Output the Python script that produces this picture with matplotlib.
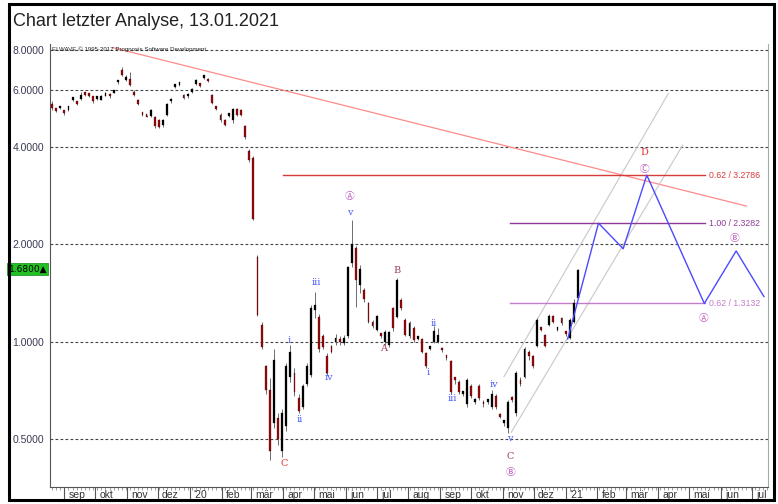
import numpy as np
import pandas as pd
import matplotlib
matplotlib.use("Agg")
import matplotlib.pyplot as plt
import matplotlib.dates as mdates
import matplotlib.transforms as mtransforms
from matplotlib.patches import Rectangle

# candles, roughly every 4 days up to the analysis date
opens = [5.45, 5.2, 5.28, 5.12, 5.2, 5.6, 5.5, 5.65, 5.85, 5.8,
         5.75, 5.65, 5.62, 5.78, 5.85, 5.9, 6.35, 6.95, 6.45, 6.5,
         5.95, 5.6, 5.1, 5.02, 5.0, 4.95, 4.85, 4.68, 5.05, 5.55,
         6.15, 6.25, 5.8, 5.75, 5.95, 6.3, 6.25, 6.55, 6.5, 5.8,
         5.3, 5.05, 4.85, 5.0, 4.85, 5.25, 5.2, 4.65, 3.9, 3.7,
         1.83, 1.13, 0.84, 0.71, 0.56, 0.58, 0.46, 0.55, 0.78, 0.8,
         0.67, 0.63, 0.74, 0.79, 1.25, 1.19, 1.04, 0.9, 0.97, 1.0,
         1.01, 0.99, 1.04, 1.75, 1.95, 1.5, 1.45, 1.32, 1.15, 1.09,
         1.05, 1.0, 0.98, 1.27, 1.19, 1.35, 1.17, 1.04, 1.1, 1.02,
         1.02, 0.92, 0.95, 1.0, 1.0, 0.95, 0.9, 0.87, 0.77, 0.75,
         0.69, 0.64, 0.73, 0.65, 0.73, 0.65, 0.65, 0.63, 0.68, 0.59,
         0.56, 0.54, 0.67, 0.6, 0.76, 0.78, 0.93, 0.9, 0.97, 1.1,
         1.05, 1.13, 1.2, 1.09, 1.18, 1.07, 1.03, 1.15, 1.37]
highs = [5.55, 5.25, 5.38, 5.15, 5.38, 5.7, 5.55, 5.95, 5.9, 5.85,
         5.78, 5.72, 5.8, 5.92, 5.9, 6.0, 6.48, 7.1, 6.7, 6.85,
         6.0, 5.65, 5.15, 5.05, 5.25, 5.0, 4.9, 4.9, 5.5, 5.7,
         6.3, 6.35, 5.85, 5.9, 6.1, 6.5, 6.3, 6.7, 6.55, 5.85,
         5.35, 5.1, 4.9, 5.1, 5.3, 5.3, 5.25, 4.7, 3.95, 3.75,
         1.85, 1.15, 0.85, 0.77, 0.95, 0.6, 0.62, 0.86, 0.98, 0.83,
         0.69, 0.74, 0.86, 1.3, 1.43, 1.22, 1.06, 0.92, 0.98, 1.06,
         1.04, 1.05, 1.72, 2.38, 1.98, 1.73, 1.47, 1.33, 1.17, 1.21,
         1.06, 1.09, 1.08, 1.28, 1.58, 1.37, 1.18, 1.16, 1.12, 1.03,
         1.03, 0.93, 0.97, 1.12, 1.1, 0.96, 0.91, 0.88, 0.78, 0.76,
         0.7, 0.77, 0.74, 0.67, 0.74, 0.66, 0.66, 0.71, 0.69, 0.6,
         0.57, 0.66, 0.68, 0.81, 0.78, 0.96, 0.94, 0.91, 1.18, 1.11,
         1.06, 1.22, 1.21, 1.1, 1.19, 1.08, 1.18, 1.36, 1.68]
lows = [5.2, 5.15, 5.25, 5.05, 5.18, 5.55, 5.4, 5.6, 5.75, 5.72,
        5.5, 5.6, 5.6, 5.75, 5.7, 5.88, 6.3, 6.65, 6.4, 6.2,
        5.75, 5.4, 5.0, 4.95, 4.98, 4.6, 4.58, 4.62, 5.0, 5.5,
        6.1, 6.2, 5.65, 5.7, 5.9, 6.25, 6.15, 6.5, 6.35, 5.45,
        5.2, 4.8, 4.65, 4.95, 4.75, 5.0, 5.0, 4.25, 3.6, 2.38,
        1.2, 0.95, 0.69, 0.43, 0.54, 0.48, 0.44, 0.53, 0.75, 0.68,
        0.6, 0.62, 0.73, 0.78, 1.18, 0.93, 0.95, 0.79, 0.92, 0.98,
        0.98, 0.98, 1.03, 1.7, 1.28, 1.42, 1.33, 1.14, 1.1, 1.08,
        1.03, 0.98, 0.96, 1.08, 1.18, 1.25, 1.04, 1.03, 1.0, 1.01,
        0.92, 0.83, 0.94, 0.99, 0.99, 0.93, 0.88, 0.69, 0.74, 0.69,
        0.68, 0.63, 0.67, 0.64, 0.66, 0.63, 0.64, 0.62, 0.62, 0.58,
        0.55, 0.52, 0.65, 0.59, 0.73, 0.77, 0.88, 0.83, 0.96, 1.08,
        0.96, 1.12, 1.14, 1.08, 1.13, 1.04, 1.02, 1.14, 1.36]
closes = [5.3, 5.18, 5.32, 5.1, 5.35, 5.65, 5.45, 5.8, 5.82, 5.78,
          5.55, 5.68, 5.75, 5.9, 5.75, 5.95, 6.4, 6.7, 6.6, 6.25,
          5.8, 5.45, 5.05, 4.98, 5.2, 4.65, 4.62, 4.85, 5.45, 5.65,
          6.25, 6.3, 5.7, 5.85, 6.05, 6.45, 6.2, 6.65, 6.4, 5.5,
          5.25, 4.85, 4.7, 5.05, 5.25, 5.05, 5.05, 4.3, 3.65, 2.4,
          1.21, 0.96, 0.71, 0.46, 0.88, 0.5, 0.6, 0.84, 0.93, 0.7,
          0.61, 0.73, 0.84, 1.27, 1.3, 0.95, 0.96, 0.8, 0.93, 1.03,
          1.0, 1.03, 1.7, 2.0, 1.55, 1.68, 1.36, 1.15, 1.12, 1.2,
          1.04, 1.07, 1.07, 1.1, 1.55, 1.27, 1.05, 1.14, 1.01, 1.02,
          0.93, 0.84, 0.96, 1.08, 1.05, 0.94, 0.89, 0.7, 0.76, 0.7,
          0.69, 0.76, 0.68, 0.66, 0.67, 0.64, 0.65, 0.69, 0.63, 0.585,
          0.565, 0.65, 0.66, 0.8, 0.74, 0.95, 0.9, 0.84, 1.17, 1.09,
          0.97, 1.2, 1.15, 1.09, 1.14, 1.06, 1.17, 1.32, 1.67]
dates = pd.date_range(end="2021-01-13", periods=len(opens), freq="4D")

# projected wave path
proj_dates = ["2021-01-03", "2021-02-02", "2021-02-26", "2021-03-21",
              "2021-05-16", "2021-06-16", "2021-07-13"]
proj_prices = [1.02, 2.3282, 1.94, 3.2786, 1.3132, 1.91, 1.38]

# trend channel and resistance line
chan_low = (["2020-11-09", "2021-04-25"], [0.524, 4.06])
chan_high = (["2020-11-02", "2021-04-11"], [0.78, 5.87])
resist = (["2019-10-18", "2021-06-26"], [8.14, 2.63])

# fibonacci levels: start date, end date, value, label, colour
fib_levels = [("2020-04-01", "2021-05-17", 3.2786, "0.62 / 3.2786", "#d83a3a"),
              ("2020-11-08", "2021-05-17", 2.3282, "1.00 / 2.3282", "#8e3b98"),
              ("2020-11-08", "2021-05-17", 1.3132, "0.62 / 1.3132", "#c27ccb")]

# wave labels: text, date, price, colour
wave_labels = [("Ⓐ", "2020-06-05", 2.82, "#c060c0"), ("v", "2020-06-05", 2.52, "#4a5cff"),
               ("iii", "2020-05-03", 1.53, "#4a5cff"), ("i", "2020-04-07", 1.01, "#4a5cff"),
               ("ii", "2020-04-17", 0.574, "#4a5cff"), ("iv", "2020-05-16", 0.775, "#4a5cff"),
               ("C", "2020-04-02", 0.42, "#e03030"), ("B", "2020-07-21", 1.66, "#a03a60"),
               ("A", "2020-07-08", 0.952, "#a03a60"), ("ii", "2020-08-26", 1.14, "#4a5cff"),
               ("i", "2020-08-20", 0.802, "#4a5cff"), ("iii", "2020-09-13", 0.667, "#4a5cff"),
               ("iv", "2020-10-23", 0.737, "#4a5cff"), ("v", "2020-11-08", 0.50, "#4a5cff"),
               ("C", "2020-11-08", 0.44, "#a03a60"), ("Ⓑ", "2020-11-08", 0.394, "#c060c0"),
               ("D", "2021-03-19", 3.86, "#e03030"), ("Ⓒ", "2021-03-19", 3.42, "#c060c0"),
               ("Ⓑ", "2021-06-14", 2.09, "#c060c0"), ("Ⓐ", "2021-05-15", 1.18, "#c060c0")]

month_ticks = pd.date_range("2019-09-01", "2021-07-01", freq="MS")
month_names = ["jan", "feb", "mär", "apr", "mai", "jun", "jul", "aug", "sep", "okt", "nov", "dez"]
month_labels = [("'" + str(d.year)[2:]) if d.month == 1 else month_names[d.month - 1]
                for d in month_ticks]

y_ticks = [0.5, 1.0, 2.0, 4.0, 6.0, 8.0]
last_price = 1.68

W, H = 778, 504
fig = plt.figure(figsize=(W / 100, H / 100), dpi=100)
fig.patch.set_facecolor("white")
ax = fig.add_axes([50 / W, 1 - 487 / H, 718 / W, 443 / H])

ax.set_yscale("log")
ax.set_ylim(0.355, 8.35)
ax.set_xlim(pd.Timestamp("2019-08-18"), pd.Timestamp("2021-07-17"))

# grid
for v in y_ticks:
    ax.axhline(v, color="#444444", lw=0.8, ls=(0, (2.5, 2)), zorder=0)

# candles
x = mdates.date2num(dates)
o = np.array(opens); c = np.array(closes); hi = np.array(highs); lo = np.array(lows)
up = c >= o
ax.vlines(x, lo, hi, color="#555555", lw=0.6, zorder=2)
bot = np.minimum(o, c)
top = np.maximum(np.maximum(o, c), bot * 1.02)
ax.bar(x[up], top[up] - bot[up], bottom=bot[up], width=1.8, color="black",
       edgecolor="black", lw=0.2, zorder=3)
ax.bar(x[~up], top[~up] - bot[~up], bottom=bot[~up], width=1.8, color="#9a0a0a",
       edgecolor="#3a0000", lw=0.2, zorder=3)

# lines
ax.plot(pd.to_datetime(resist[0]), resist[1], color="#ff8a8a", lw=0.9, zorder=1)
ax.plot(pd.to_datetime(chan_low[0]), chan_low[1], color="#c8c8c8", lw=0.8, zorder=1)
ax.plot(pd.to_datetime(chan_high[0]), chan_high[1], color="#c8c8c8", lw=0.8, zorder=1)
ax.plot(pd.to_datetime(proj_dates), proj_prices, color="#4a4aff", lw=1.0, zorder=4)

for d0, d1, v, lab, col in fib_levels:
    ax.plot([pd.Timestamp(d0), pd.Timestamp(d1)], [v, v], color=col, lw=1.0, zorder=1)
    ax.text(pd.Timestamp(d1) + pd.Timedelta(days=4), v, lab, color=col, fontsize=6.3,
            family="Liberation Sans", va="center", ha="left", zorder=5)

for t, d, v, col in wave_labels:
    fam = ["DejaVu Sans", "Noto Sans CJK JP"] if t in "ⒶⒷⒸ" else ["DejaVu Serif"]
    ax.text(pd.Timestamp(d), v, t, color=col, fontsize=7, ha="center", va="center",
            family=fam, zorder=5)

ax.text(0.003, 0.995, "ELWAVE © 1995-2017 Prognosis Software Development",
        transform=ax.transAxes, fontsize=4.4, va="top", ha="left", color="#222222",
        family="Liberation Sans")

# axes styling
ax.spines["top"].set_visible(False)
ax.spines["left"].set_color("#555555")
ax.spines["right"].set_color("#aaaaaa")
ax.spines["bottom"].set_color("#555555")
ax.set_yticks(y_ticks)
ax.set_yticklabels(["%.4f" % v for v in y_ticks], family="Liberation Sans")
ax.yaxis.set_minor_locator(matplotlib.ticker.NullLocator())
ax.tick_params(axis="y", length=0, pad=4, labelsize=7.5, labelcolor="#3a3a55")

ax.set_xticks(month_ticks)
ax.set_xticklabels(month_labels, family="Liberation Sans")
ax.xaxis.set_minor_locator(mdates.DayLocator(interval=4))
ax.tick_params(axis="x", which="major", length=10, width=0.8, color="#555555",
               pad=-8, labelsize=7.5, labelcolor="#333333")
ax.tick_params(axis="x", which="minor", length=2.5, width=0.5, color="#777777")
shift = mtransforms.ScaledTranslation(3 / 72, 0, fig.dpi_scale_trans)
for lab in ax.get_xticklabels():
    lab.set_horizontalalignment("left")
    lab.set_transform(lab.get_transform() + shift)

# last price box
ax.text(-0.004, last_price, "1.6800▲", transform=ax.get_yaxis_transform(),
        ha="right", va="center", fontsize=6.5, color="black",
        bbox=dict(boxstyle="square,pad=0.15", fc="#22c022", ec="#118811", lw=0.5))

# title and frame
fig.text(13 / W, 1 - 22 / H, "Chart letzter Analyse, 13.01.2021", fontsize=13,
         family="Liberation Sans", color="#222222", va="center")
fig.patches.append(Rectangle((9 / W, 4 / H), 765 / W, 496 / H, transform=fig.transFigure,
                             fill=False, ec="black", lw=2.2))

fig.savefig("out.png", dpi=100)
